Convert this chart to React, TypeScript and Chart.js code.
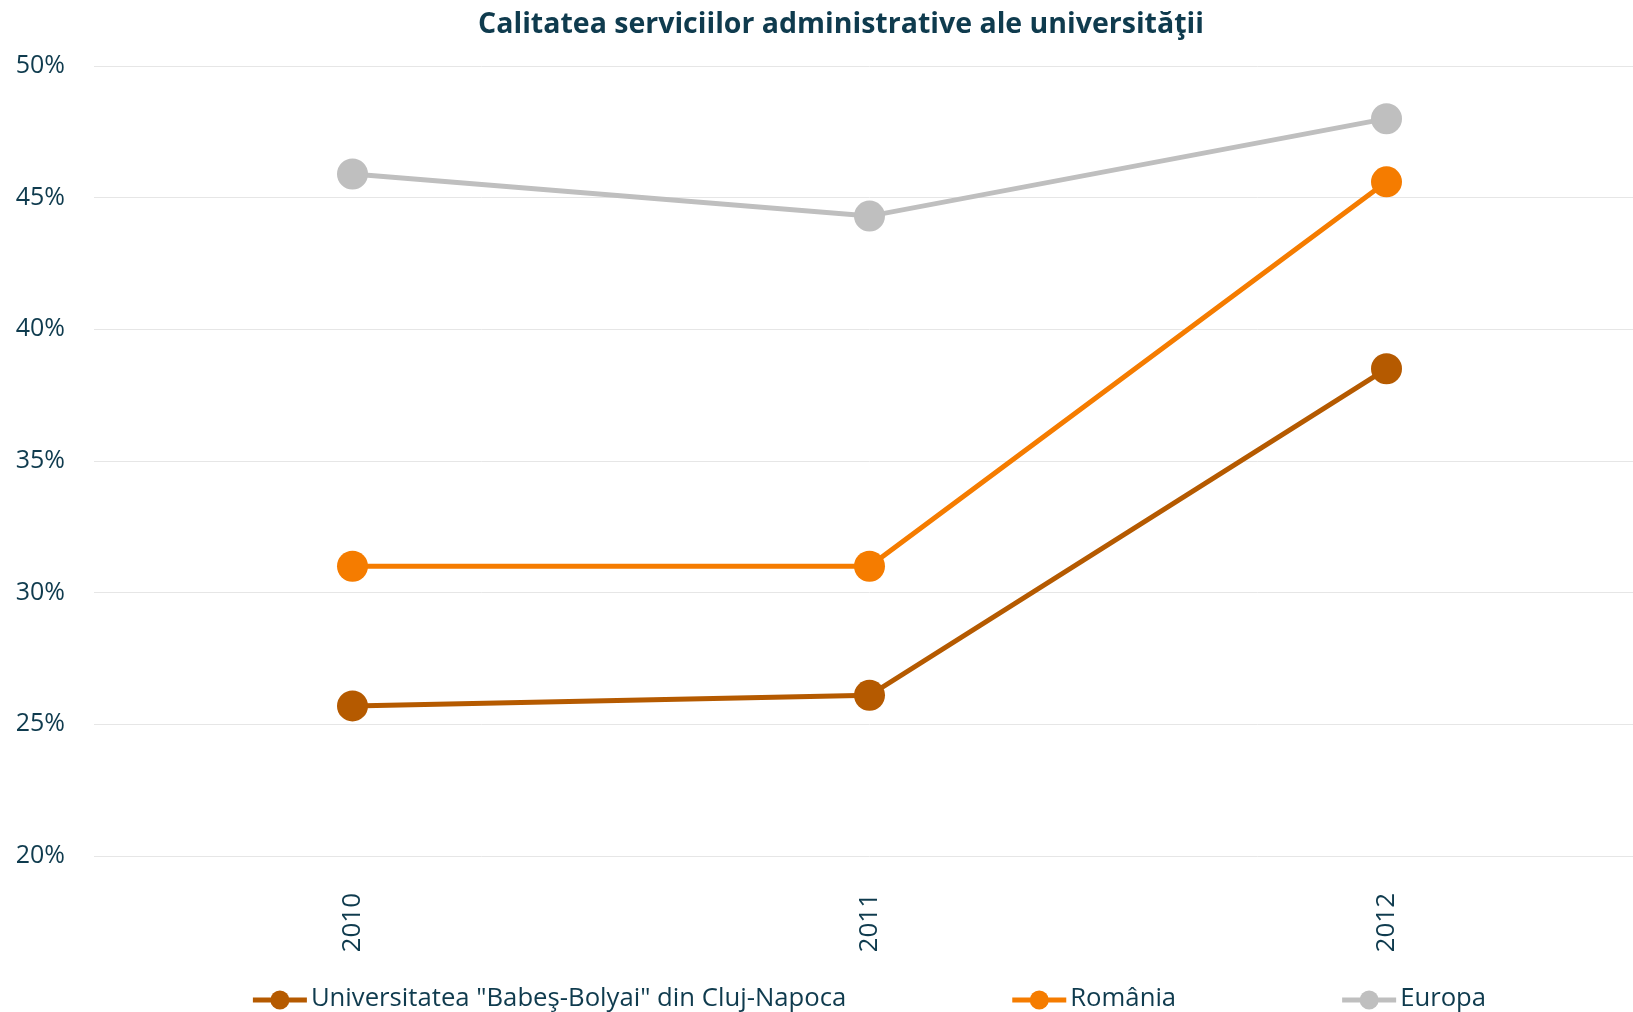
import React, { useEffect, useRef } from "react";
import { Chart, registerables } from "chart.js";

Chart.register(...registerables);

const categories = ["2010", "2011", "2012"];
const seriesNames = [
  'Universitatea "Babeş-Bolyai" din Cluj-Napoca',
  "România",
  "Europa",
];
const ubbValues = [25.7, 26.1, 38.5];
const romaniaValues = [31.0, 31.0, 45.6];
const europaValues = [45.9, 44.3, 48.0];
const seriesColors = ["#B55A00", "#F57C00", "#BFBFBF"];
const yMin = 20;
const yMax = 50;
const yStep = 5;
const titleText = "Calitatea serviciilor administrative ale universităţii";

const TEXT_COLOR = "#0F3B4E";
const FONT = "'Open Sans', sans-serif";

const titlePlugin = {
  id: "customTitle",
  afterDraw(chart: any) {
    const ctx = chart.ctx as CanvasRenderingContext2D;
    ctx.save();
    ctx.font = `bold 28.5px ${FONT}`;
    ctx.fillStyle = TEXT_COLOR;
    ctx.textAlign = "center";
    ctx.textBaseline = "middle";
    ctx.fillText(titleText, chart.width / 2, 25);
    ctx.restore();
  },
};

const legendPlugin = {
  id: "customLegend",
  afterDraw(chart: any) {
    const ctx = chart.ctx as CanvasRenderingContext2D;
    const { left, right } = chart.chartArea;
    ctx.save();
    ctx.font = `25.7px ${FONT}`;
    const items = chart.data.datasets.map((ds: any) => ({
      label: ds.label as string,
      color: ds.borderColor as string,
      w: ctx.measureText(ds.label).width,
    }));
    const markerW = 54;
    const textGap = 4;
    const itemGap = 166;
    const total =
      items.reduce((s: number, it: any) => s + markerW + textGap + it.w, 0) +
      itemGap * (items.length - 1);
    let x = (left + right) / 2 - total / 2;
    const y = chart.height - 12;
    for (const it of items) {
      ctx.strokeStyle = it.color;
      ctx.lineWidth = 5;
      ctx.beginPath();
      ctx.moveTo(x, y);
      ctx.lineTo(x + markerW, y);
      ctx.stroke();
      ctx.fillStyle = it.color;
      ctx.beginPath();
      ctx.arc(x + markerW / 2, y, 9.5, 0, Math.PI * 2);
      ctx.fill();
      ctx.fillStyle = TEXT_COLOR;
      ctx.textBaseline = "middle";
      ctx.textAlign = "left";
      ctx.fillText(it.label, x + markerW + textGap, y - 1);
      x += markerW + textGap + it.w + itemGap;
    }
    ctx.restore();
  },
};

export default function App() {
  const canvasRef = useRef<HTMLCanvasElement | null>(null);

  useEffect(() => {
    if (!canvasRef.current) return;
    const valueSets = [ubbValues, romaniaValues, europaValues];
    const chart = new Chart(canvasRef.current, {
      type: "line",
      data: {
        labels: categories,
        datasets: seriesNames.map((name, i) => ({
          label: name,
          data: valueSets[i],
          borderColor: seriesColors[i],
          backgroundColor: seriesColors[i],
          pointBackgroundColor: seriesColors[i],
          pointBorderColor: seriesColors[i],
          pointBorderWidth: 0,
          pointRadius: 15.5,
          borderWidth: 5,
          tension: 0,
          fill: false,
        })),
      },
      options: {
        responsive: false,
        animation: false,
        layout: { padding: { left: 0, right: 37, bottom: 61, top: 66 } },
        plugins: {
          legend: { display: false },
          tooltip: { enabled: false },
          title: { display: false },
        },
        scales: {
          x: {
            type: "category",
            offset: true,
            grid: { display: false, drawTicks: false },
            border: { display: false },
            ticks: {
              color: TEXT_COLOR,
              font: { family: FONT, size: 26 },
              minRotation: 90,
              maxRotation: 90,
              padding: 37,
            },
            afterFit: (scale: any) => {
              scale.height = 95;
            },
          },
          y: {
            min: yMin,
            max: yMax,
            grid: { color: "#E6E6E6", lineWidth: 1, drawTicks: false },
            border: { display: false },
            ticks: {
              stepSize: yStep,
              color: TEXT_COLOR,
              font: { family: FONT, size: 25 },
              padding: 29,
              callback: (v: any) => `${v}%`,
            },
            afterFit: (scale: any) => {
              scale.width = 94;
            },
          },
        },
      },
      plugins: [titlePlugin, legendPlugin],
    });
    return () => chart.destroy();
  }, []);

  return (
    <div
      style={{
        position: "fixed",
        left: 0,
        top: 0,
        width: 1633,
        height: 1012,
        overflow: "hidden",
        background: "#ffffff",
      }}
    >
      <canvas
        ref={canvasRef}
        width={1682}
        height={1012}
        style={{ display: "block", width: 1682, height: 1012 }}
      />
    </div>
  );
}
